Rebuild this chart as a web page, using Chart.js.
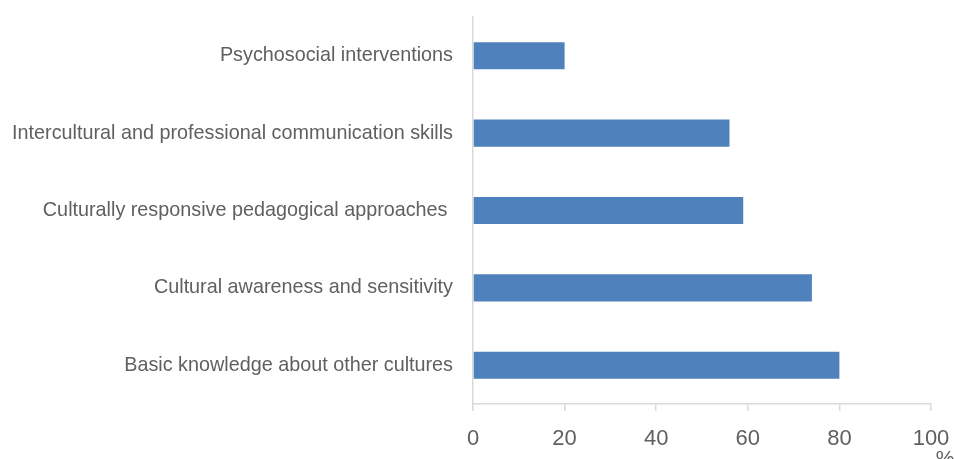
<!DOCTYPE html>
<html>
<head>
<meta charset="utf-8">
<script src="https://cdn.jsdelivr.net/npm/chart.js@4"></script>
<style>
  html, body { margin: 0; padding: 0; background: #fff; }
  #wrap { width: 955px; height: 459px; position: relative; }
</style>
</head>
<body>
<div id="wrap"><canvas id="myChart" width="955" height="459"></canvas></div>
<script>
// categories top to bottom
const categories = [
    "Psychosocial interventions",
    "Intercultural and professional communication skills",
    "Culturally responsive pedagogical approaches ",
    "Cultural awareness and sensitivity",
    "Basic knowledge about other cultures"
];
const values = [20, 56, 59, 74, 80];
const xTicks = [0, 20, 40, 60, 80, 100];
const unitLabel = "%";

const axisColor = "#d9d9d9";
const textColor = "#606060";

// draws the "%" under the last tick
const unitPlugin = {
    id: "unitLabel",
    afterDraw(chart) {
        const x = chart.scales.x;
        const c = chart.ctx;
        c.save();
        c.fillStyle = textColor;
        c.font = "21px 'Liberation Sans', sans-serif";
        c.textAlign = "center";
        c.textBaseline = "alphabetic";
        c.fillText(unitLabel, x.getPixelForValue(100) + 14, x.bottom + 6);
        c.restore();
    }
};

const ctx = document.getElementById('myChart').getContext('2d');

const chart = new Chart(ctx, {
    type: "bar",
    data: {
        labels: categories,
        datasets: [{
            data: values,
            backgroundColor: "#4f81bd",
            borderWidth: 0,
            barPercentage: 0.35,
            categoryPercentage: 1
        }]
    },
    options: {
        indexAxis: "y",
        responsive: false,
        animation: false,
        layout: { padding: { top: 17, right: 24, left: 0, bottom: 0 } },
        plugins: {
            legend: { display: false },
            tooltip: { enabled: false }
        },
        scales: {
            x: {
                min: 0,
                max: 100,
                afterBuildTicks(scale) {
                    scale.ticks = xTicks.map(v => ({ value: v }));
                },
                afterFit(scale) {
                    scale.height = 55;
                    scale.paddingLeft = 0;
                    scale.paddingRight = 0;
                },
                grid: { drawOnChartArea: false, drawTicks: true, tickLength: 7, color: axisColor, lineWidth: 1.5 },
                border: { color: axisColor, width: 1.5 },
                ticks: {
                    color: textColor,
                    font: { family: "'Liberation Sans', sans-serif", size: 22 },
                    padding: 15,
                    maxRotation: 0
                }
            },
            y: {
                afterFit(scale) {
                    scale.width = 473;
                    scale.paddingTop = 0;
                    scale.paddingBottom = 0;
                },
                grid: { drawOnChartArea: false, drawTicks: false, color: axisColor },
                border: { color: axisColor, width: 1.5 },
                ticks: {
                    color: textColor,
                    font: { family: "'Liberation Sans', sans-serif", size: 19.8 },
                    padding: 20
                }
            }
        }
    },
    plugins: [unitPlugin]
});
</script>
</body>
</html>
